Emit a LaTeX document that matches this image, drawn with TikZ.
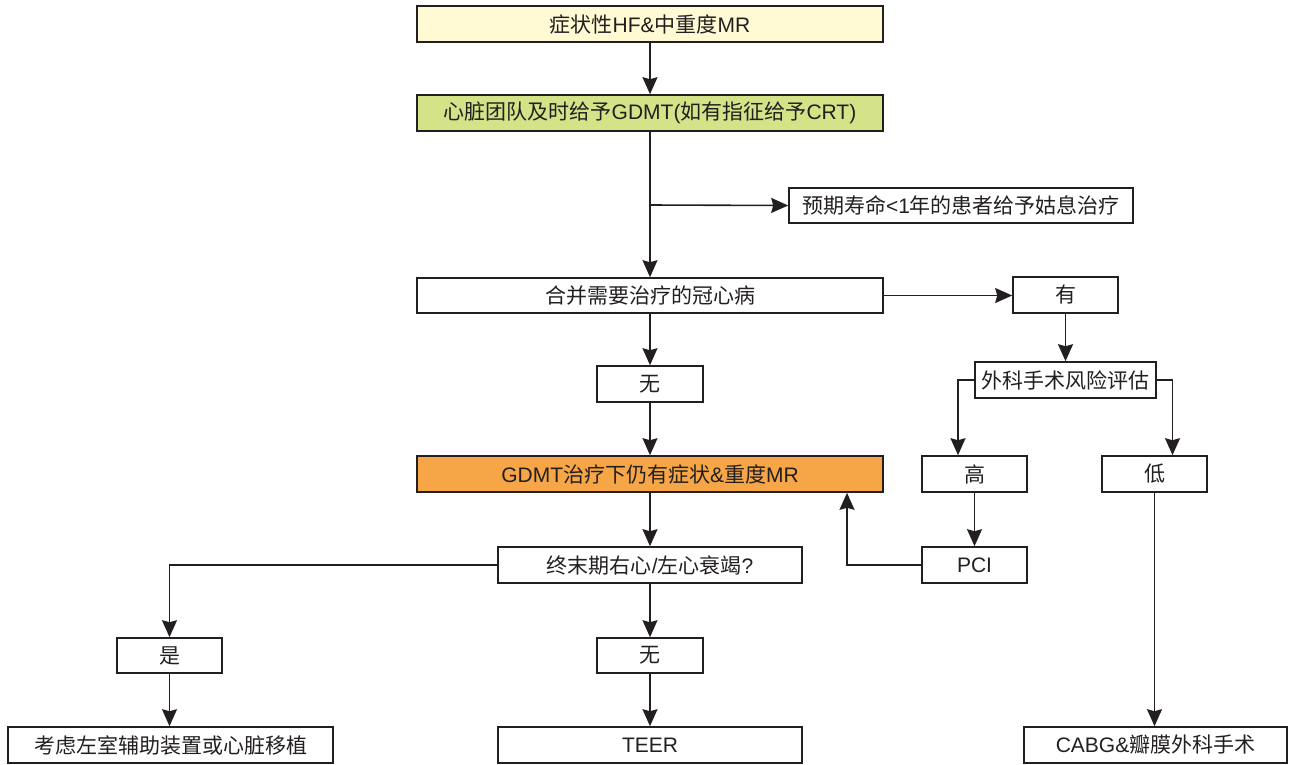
\documentclass[tikz,border=0pt]{standalone}
\usepackage{fontspec}
\setmainfont{Noto Sans CJK SC}
\newfontfamily\en{Liberation Sans}
\newcommand{\la}[1]{{\en #1}}
\usetikzlibrary{arrows.meta}
\definecolor{cyellow}{RGB}{255,250,212}
\definecolor{cgreen}{RGB}{212,226,136}
\definecolor{corange}{RGB}{246,166,70}
\definecolor{cline}{RGB}{35,31,32}
\tikzset{
  box/.style={draw=cline, line width=1.6pt, inner sep=0pt, minimum height=36pt, text=cline,
    font=\fontsize{21}{24}\selectfont},
  arr/.style={draw=cline, line width=1.6pt, -{Stealth[length=17pt,width=15pt,inset=2pt]}}
}
\begin{document}
\begin{tikzpicture}[x=1pt,y=-1pt]
\useasboundingbox (0,0) rectangle (1289,764);
\node[box, fill=cyellow, minimum width=466pt] (top) at (650,24) {症状性\la{HF\&}中重度\la{MR}};
\node[box, fill=cgreen, minimum width=466pt] (green) at (650,113) {心脏团队及时给予\la{GDMT(}如有指征给予\la{CRT)}};
\node[box, minimum width=344pt, minimum height=35pt] (pall) at (961,205.5) {预期寿命\la{<1}年的患者给予姑息治疗};
\node[box, minimum width=466pt, minimum height=35pt] (cad) at (650,295.5) {合并需要治疗的冠心病};
\node[box, minimum width=105pt] (you) at (1065.5,295) {有};
\node[box, minimum width=106pt] (wu1) at (650,384) {无};
\node[box, minimum width=181pt] (risk) at (1065.5,380) {外科手术风险评估};
\node[box, fill=corange, minimum width=466pt] (orange) at (650,474) {\la{GDMT}治疗下仍有症状\la{\&}重度\la{MR}};
\node[box, minimum width=105pt] (gao) at (974.5,474) {高};
\node[box, minimum width=105pt] (di) at (1154.5,474) {低};
\node[box, minimum width=304pt] (end) at (650,565) {终末期右心\la{/}左心衰竭\la{?}};
\node[box, minimum width=105pt] (pci) at (974.5,565) {\la{PCI}};
\node[box, minimum width=105pt, minimum height=35pt] (shi) at (169.5,655.5) {是};
\node[box, minimum width=106pt, minimum height=35pt] (wu2) at (650,655.5) {无};
\node[box, minimum width=325pt] (lvad) at (170.5,745) {考虑左室辅助装置或心脏移植};
\node[box, minimum width=304pt] (teer) at (650,745) {\la{TEER}};
\node[box, minimum width=263pt] (cabg) at (1155.5,745) {\la{CABG\&}瓣膜外科手术};
\coordinate (br) at (650,205);
\draw[arr] (top.south) -- (green.north);
\draw[arr] (green.south) -- (cad.north);
\draw[arr] (br) -- (pall.west);
\draw[arr] (cad.east) -- (cad.east -| you.west);
\draw[arr] (you.south) -- (you.south |- risk.north);
\draw[arr] (risk.west) -| ([xshift=-16.5pt]gao.north);
\draw[arr] (risk.east) -| ([xshift=18pt]di.north);
\draw[arr] (gao.south) -- (pci.north);
\draw[arr] (pci.west) -| ([xshift=197pt]orange.south);
\draw[arr] (cad.south) -- (wu1.north);
\draw[arr] (wu1.south) -- (orange.north);
\draw[arr] (orange.south) -- (end.north);
\draw[arr] (end.west) -| (shi.north);
\draw[arr] (end.south) -- (wu2.north);
\draw[arr] (shi.south) -- (shi.south |- lvad.north);
\draw[arr] (wu2.south) -- (teer.north);
\draw[arr] (di.south) -- (di.south |- cabg.north);
\end{tikzpicture}
\end{document}
